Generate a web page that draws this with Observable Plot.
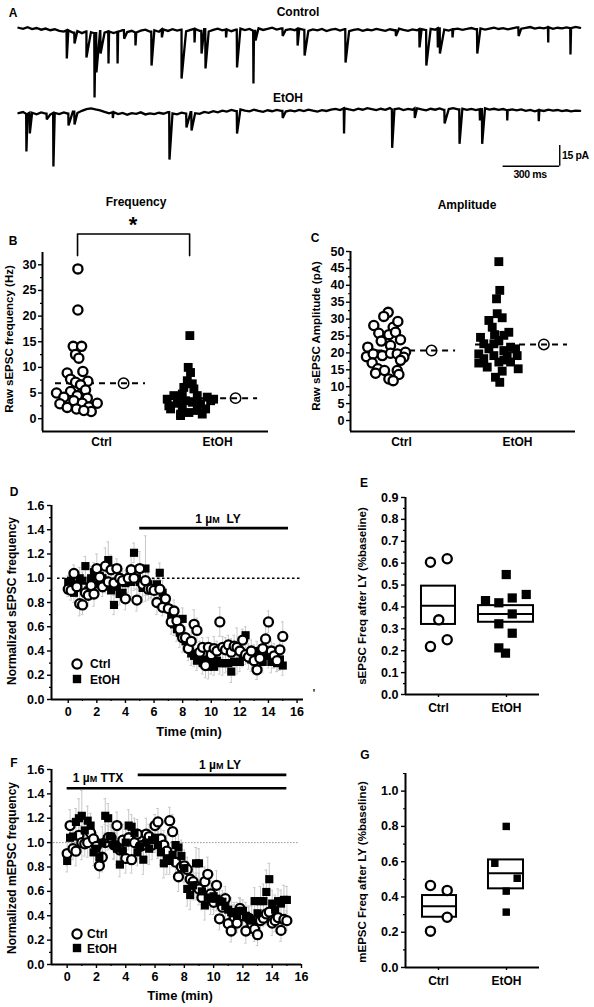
<!DOCTYPE html>
<html><head><meta charset="utf-8">
<script src="https://cdn.jsdelivr.net/npm/d3@7"></script>
<script src="https://cdn.jsdelivr.net/npm/@observablehq/plot@0.6"></script>
<style>
body{margin:0;background:#fff;}
#fig{position:relative;width:594px;height:1007px;overflow:hidden;font-family:"Liberation Sans",Arial,sans-serif;font-weight:bold;color:#000;}
#fig > svg{position:absolute;overflow:visible;}
.lab{position:absolute;white-space:nowrap;font-weight:bold;line-height:1;}
</style></head><body><div id="fig"></div><script>
// ---------------- DATA ----------------
const categories = ["Ctrl", "EtOH"];

// Panel A: raw traces (pA), baseline samples every sampleMs, events [time ms, peak pA]
const sampleMs = 24;
const ctrlTraceBase = [2.0,1.2,2.4,1.0,1.8,0.6,1.4,0.2,0.9,-0.3,-0.8,0.1,-1.5,-0.4,-1.9,-0.6,-1.2,-2.0,-0.5,-1.6,
 -0.7,-1.8,-0.9,0.3,-1.1,-0.2,-1.4,-0.1,0.6,-0.8,0.2,-0.9,0.8,-0.3,1.0,0.0,0.7,-0.6,0.4,1.2,
 -0.2,0.9,-0.7,0.5,1.3,0.1,0.8,-0.5,0.6,1.4,0.3,1.1,-0.2,1.6,0.4,1.2,2.0,0.7,1.5,0.3,
 1.0,0.2,1.3,0.5,-0.3,0.8,0.1,1.1,-0.4,0.6,1.2,0.0,0.9,-0.5,0.4,1.0,-0.2,0.7,0.1,1.1,
 0.5,-0.3,0.9,0.2,1.3,0.4,-0.2,0.8,0.1,1.0,0.3,1.2,0.6,1.6,0.7,0.0,0.9,1.4,0.5,1.1,
 1.8,0.9,1.5,0.6,1.3,2.0,1.1,1.7,0.8,1.5,2.2,1.3,1.9,2.5,1.4,2.1,1.6,2.4,1.2,2.0,
 1.5,2.3,1.7,2.6,1.9];
const ctrlTraceEvents = [[256,-20.3],[297,-9.4],[360,-19.6],[403,-48.6],[413,-30.4],[435,-16.7],[477,-23.9],
 [525,-23.9],[560,-6],[620,-10.9],[705,-25.4],[760,-5],[864,-34.8],[933,-8.7],[970,-16.7],[991,-27.5],
 [1100,-5],[1158,-26.8],[1245,-38.4],[1256,-7.2],[1400,-4],[1479,-10.9],[1516,-18.1],[1733,-23.2],
 [2000,-4],[2125,-12.3],[2161,-25.4],[2222,-12.3],[2233,-16.7],[2300,-5],[2431,-16.7],[2650,-4],
 [2807,-8.7],[2925,-17.4]];
const etohTraceBase = [-0.5,0.3,-1.0,-0.2,-1.3,0.1,-0.8,-1.5,-0.3,-1.1,0.0,-0.9,0.6,-0.4,1.2,2.4,3.0,2.2,1.5,0.4,
 -0.6,0.2,-1.2,-0.3,-1.6,-0.5,-1.0,0.1,-1.4,-0.6,-1.2,-0.2,-0.9,0.3,-0.7,-1.3,-0.1,-0.8,0.2,-0.5,
 -1.0,0.4,-0.3,0.9,0.1,1.3,0.6,1.8,1.0,2.2,1.4,0.8,2.0,1.2,0.5,1.6,0.9,1.9,1.1,0.7,
 1.5,0.8,1.8,1.0,2.1,1.3,0.6,1.7,1.1,2.0,2.6,1.8,3.0,2.2,1.6,2.8,2.0,3.1,2.4,1.7,
 2.7,1.9,3.2,2.3,2.9,1.8,2.6,2.0,3.0,2.2,1.6,2.7,2.0,2.9,1.8,2.5,3.1,2.2,2.8,1.9,
 2.6,1.7,2.4,3.0,2.1,2.7,1.9,2.5,1.6,2.3,1.5,2.2,1.2,1.9,0.9,1.7,1.1,2.0,1.3,1.8,
 1.0,1.6,0.8,1.4,1.2];
const etohTraceEvents = [[42,-28.3],[60,-15.2],[150,-5],[185,-39.1],[265,-9.4],[297,-8.7],[500,-4],
 [800,-34.1],[890,-10.9],[917,-13.0],[1158,-15.2],[1400,-4],[1725,-15.2],[1980,-25.6],[2100,-4],
 [2258,-8],[2337,-22.7],[2445,-5.8],[2457,-22.7],[2590,-5.8],[2757,-6.3]];

// Panel B: raw sEPSC frequency (Hz); position = horizontal scatter within group
const ctrlFreqPos = [-0.204,-0.204,-0.244,-0.172,-0.224,-0.196,-0.296,-0.161,-0.267,-0.118,-0.224,-0.181,-0.388,-0.267,-0.138,-0.209,-0.325,-0.123,-0.359,-0.296,-0.239,-0.166,-0.109,-0.037,-0.089,-0.216,-0.153];
const ctrlFreq = [29.2,21.2,14.1,14.1,12.5,11.8,8.9,9.2,7.7,7.3,7.1,6.6,5.0,5.3,5.6,4.5,4.2,4.0,2.9,2.2,3.5,3.0,2.3,3.0,1.4,1.9,1.6];
const etohFreqPos = [0.761,0.747,0.767,0.739,0.782,0.709,0.796,0.696,0.623,0.825,0.566,0.911,0.580,0.653,0.724,0.782,0.853,0.897,0.825,0.681,0.753,0.940,0.696,0.681,0.868,0.595,0.966];
const etohFreq = [16.2,10.0,9.0,7.4,6.8,6.1,5.8,4.8,4.5,4.5,3.8,4.2,2.5,3.0,3.5,3.2,2.9,1.9,1.6,0.9,1.2,3.5,2.2,0.6,0.9,1.9,3.8];
const freqMean = [6.9, 4.0];
const freqMeanPos = [0.190, 1.155];

// Panel C: raw sEPSC amplitude (pA)
const ctrlAmpPos = [-0.115,-0.153,-0.239,-0.072,-0.032,-0.196,-0.109,-0.052,-0.009,-0.175,-0.095,-0.291,-0.302,-0.244,-0.166,-0.095,-0.037,0.034,0.020,-0.009,-0.253,-0.204,-0.224,-0.147,-0.037,-0.023,-0.109,-0.072];
const ctrlAmp = [32.0,30.8,28.1,27.6,29.3,25.8,25.4,26.1,23.9,23.5,22.2,21.7,18.9,19.7,19.2,19.9,19.7,20.2,18.7,17.8,17.0,15.3,14.0,14.8,14.8,13.6,12.3,11.8];
const etohAmpPos = [0.839,0.847,0.819,0.825,0.868,0.753,0.782,0.925,0.802,0.681,0.882,0.709,0.796,0.839,0.940,0.983,0.753,0.882,0.666,0.796,0.911,0.997,0.709,0.666,0.839,0.940,0.739,1.006,0.868,0.810,0.847,0.882];
const etohAmp = [47.0,38.5,36.0,31.6,30.4,29.6,27.6,26.1,25.4,24.6,25.2,22.7,22.7,23.7,21.7,21.2,21.2,20.7,19.7,19.2,19.2,19.2,18.3,17.0,17.3,17.3,15.8,15.3,14.6,12.8,11.3,17.9];
const ampMean = [20.7, 22.5];
const ampMeanPos = [0.259, 1.227];

// Panels D and F: normalized frequency time courses
const timeMin = [0,0.2,0.4,0.6,0.8,1,1.2,1.4,1.6,1.8,2,2.2,2.4,2.6,2.8,3,3.2,3.4,3.6,3.8,4,4.2,4.4,4.6,4.8,5,5.2,5.4,5.6,5.8,6,6.2,6.4,6.6,6.8,7,7.2,7.4,7.6,7.8,8,8.2,8.4,8.6,8.8,9,9.2,9.4,9.6,9.8,10,10.2,10.4,10.6,10.8,11,11.2,11.4,11.6,11.8,12,12.2,12.4,12.6,12.8,13,13.2,13.4,13.6,13.8,14,14.2,14.4,14.6,14.8,15];
const sCtrl = [0.91,0.90,1.04,0.93,0.79,0.78,0.88,0.86,0.94,0.87,1.08,1.01,0.93,1.10,0.97,1.07,0.96,1.08,1.00,0.98,
 0.83,1.00,1.07,1.00,0.82,1.08,0.95,0.98,0.91,0.91,0.90,0.80,0.91,0.76,0.83,0.75,0.64,0.73,0.65,0.58,
 0.51,0.51,0.42,0.48,0.62,0.57,0.39,0.43,0.28,0.43,0.37,0.42,0.40,0.64,0.43,0.41,0.45,0.39,0.44,0.43,
 0.40,0.49,0.37,0.35,0.40,0.32,0.245,0.34,0.42,0.50,0.64,0.40,0.36,0.32,0.41,0.52];
const sCtrlSem = [0.06,0.08,0.07,0.09,0.10,0.08,0.07,0.09,0.08,0.10,0.12,0.09,0.08,0.15,0.10,0.12,0.09,0.08,0.11,0.10,
 0.09,0.08,0.12,0.10,0.09,0.14,0.10,0.12,0.09,0.08,0.09,0.10,0.08,0.07,0.09,0.08,0.10,0.09,0.11,0.10,
 0.12,0.09,0.10,0.11,0.12,0.10,0.09,0.08,0.10,0.08,0.09,0.10,0.08,0.12,0.09,0.10,0.08,0.11,0.09,0.16,
 0.10,0.09,0.08,0.10,0.09,0.11,0.08,0.10,0.09,0.15,0.09,0.08,0.10,0.09,0.10,0.12];
const sEtoh = [0.97,0.98,0.88,0.95,1.00,0.98,1.10,0.90,1.00,1.05,0.95,1.02,1.00,0.98,1.15,0.90,0.78,0.93,0.87,0.88,
 0.96,0.97,0.97,1.21,1.00,0.97,0.92,1.08,0.95,0.92,0.90,0.95,1.045,0.88,0.80,0.75,0.70,0.62,0.58,0.55,
 0.665,0.48,0.42,0.38,0.36,0.32,0.35,0.30,0.33,0.27,0.30,0.27,0.32,0.30,0.30,0.30,0.30,0.23,0.31,0.31,
 0.31,0.36,0.53,0.38,0.33,0.36,0.40,0.35,0.31,0.38,0.36,0.31,0.34,0.30,0.33,0.28];
const sEtohSem = [0.05,0.07,0.08,0.06,0.09,0.07,0.08,0.06,0.10,0.08,0.07,0.09,0.08,0.10,0.15,0.09,0.08,0.07,0.09,0.08,
 0.10,0.09,0.12,0.08,0.09,0.10,0.12,0.27,0.09,0.08,0.07,0.09,0.08,0.10,0.09,0.07,0.08,0.09,0.10,0.12,
 0.09,0.08,0.07,0.10,0.09,0.08,0.07,0.09,0.08,0.10,0.09,0.07,0.08,0.09,0.10,0.08,0.07,0.09,0.08,0.10,
 0.08,0.09,0.07,0.08,0.10,0.09,0.08,0.07,0.09,0.08,0.10,0.09,0.08,0.07,0.09,0.08];
const mCtrl = [0.91,1.14,0.95,0.93,1.06,1.00,0.99,1.00,1.08,1.03,0.97,0.81,0.88,1.00,1.04,1.04,0.98,1.14,0.94,1.02,
 0.87,1.04,0.86,1.00,1.07,0.97,0.98,1.07,1.05,0.98,1.14,1.17,1.03,0.98,0.93,1.18,1.09,0.84,0.72,0.80,
 0.81,0.78,0.70,0.68,0.64,0.62,0.55,0.68,0.74,0.58,0.51,0.65,0.375,0.47,0.54,0.335,0.275,0.39,0.34,0.46,
 0.40,0.275,0.38,0.335,0.29,0.245,0.36,0.38,0.415,0.43,0.34,0.36,0.385,0.28,0.37,0.36];
const mCtrlSem = [0.10,0.13,0.09,0.12,0.11,0.14,0.10,0.12,0.09,0.13,0.11,0.10,0.12,0.15,0.10,0.09,0.12,0.11,0.10,0.13,
 0.12,0.10,0.11,0.09,0.12,0.10,0.11,0.13,0.10,0.12,0.09,0.11,0.10,0.12,0.13,0.11,0.14,0.10,0.12,0.11,
 0.13,0.10,0.12,0.15,0.11,0.13,0.10,0.12,0.14,0.11,0.10,0.12,0.09,0.11,0.10,0.08,0.09,0.10,0.08,0.09,
 0.08,0.10,0.09,0.08,0.10,0.09,0.08,0.07,0.09,0.08,0.10,0.09,0.08,0.09,0.10,0.08];
const mEtoh = [0.85,1.04,1.05,1.17,1.20,1.22,1.10,1.18,1.14,0.92,0.95,0.88,1.00,1.22,1.20,1.05,0.98,0.95,0.82,0.93,
 1.00,1.14,1.13,1.08,0.92,0.97,0.86,1.00,0.95,1.02,1.04,0.98,0.92,0.83,0.87,0.85,0.90,0.98,0.96,0.89,
 0.79,0.62,0.57,0.65,0.83,0.83,0.60,0.485,0.55,0.54,0.56,0.54,0.52,0.515,0.48,0.45,0.43,0.42,0.40,0.44,
 0.44,0.40,0.38,0.36,0.52,0.42,0.52,0.52,0.595,0.70,0.50,0.45,0.52,0.50,0.53,0.53];
const mEtohSem = [0.09,0.12,0.14,0.11,0.16,0.21,0.13,0.12,0.10,0.11,0.12,0.10,0.13,0.14,0.12,0.10,0.11,0.13,0.10,0.12,
 0.11,0.13,0.10,0.12,0.11,0.10,0.12,0.11,0.13,0.10,0.12,0.11,0.10,0.12,0.13,0.11,0.10,0.12,0.11,0.13,
 0.12,0.14,0.12,0.11,0.13,0.12,0.11,0.12,0.10,0.13,0.11,0.10,0.12,0.09,0.11,0.10,0.12,0.09,0.11,0.10,
 0.09,0.11,0.10,0.12,0.11,0.13,0.12,0.14,0.18,0.13,0.11,0.12,0.10,0.11,0.12,0.11];
// drug application windows (min)
const lyD = [5.0, 15.4];
const ttxF = [0.0, 15.0];
const lyF = [4.85, 15.0];

// Panel E: sEPSC freq after LY (fraction of baseline)
const eCtrlPos = [-0.118, 0.128, 0.004, -0.118, 0.128];
const eCtrl = [0.604, 0.620, 0.341, 0.219, 0.250];
const eEtohPos = [0.996, 0.691, 0.887, 1.084, 1.290, 1.084, 0.887, 1.084, 0.887, 0.985];
const eEtoh = [0.548, 0.429, 0.419, 0.441, 0.457, 0.368, 0.323, 0.280, 0.213, 0.189];
const eBoxLow = [0.320, 0.330], eBoxMid = [0.406, 0.368], eBoxHigh = [0.495, 0.406];

// Panel G: mEPSC freq after LY
const gCtrlPos = [-0.118, 0.128, 0.128, -0.118];
const gCtrl = [0.465, 0.437, 0.285, 0.206];
const gEtohPos = [0.996, 0.828, 1.157, 0.996, 0.996];
const gEtoh = [0.800, 0.591, 0.506, 0.433, 0.314];
const gBoxLow = [0.285, 0.446], gBoxMid = [0.348, 0.535], gBoxHigh = [0.408, 0.610];

// ---------------- HELPERS ----------------
const fig = document.getElementById("fig");
const FONT = '"Liberation Sans", Arial, sans-serif';
const baseStyle = {fontFamily: FONT, fontSize: "12px", fontWeight: "bold", overflow: "visible", background: "none"};

function place(svg, left, top) { svg.style.left = left + "px"; svg.style.top = top + "px"; fig.appendChild(svg); }
function label(html, x, y, o = {}) {
  const d = document.createElement("div");
  d.className = "lab"; d.innerHTML = html;
  d.style.fontSize = (o.size || 12) + "px";
  if (o.ls) d.style.letterSpacing = o.ls + "px";
  d.style.left = x + "px"; d.style.top = y + "px";
  const tx = o.anchor === "start" ? "0" : "-50%";
  d.style.transform = `translate(${tx},-50%)` + (o.rotate ? ` rotate(${o.rotate}deg)` : "");
  fig.appendChild(d);
}
function legendMark(shape, x, y) {
  const d = document.createElement("div");
  d.style.position = "absolute"; d.style.left = (x - 7) + "px"; d.style.top = (y - 7) + "px";
  d.innerHTML = shape === "circle"
    ? '<svg width="14" height="14"><circle cx="7" cy="7" r="4.6" fill="#fff" stroke="#000" stroke-width="2.2"/></svg>'
    : '<svg width="14" height="14"><rect x="2.8" y="2.8" width="8.4" height="8.4" fill="#000"/></svg>';
  fig.appendChild(d);
}
// margins from page-coordinates of the frame
function frame(left, top, width, height, x0, x1, y0, y1) {
  return {width, height, marginLeft: x0 - left, marginRight: left + width - x1, marginTop: y0 - top, marginBottom: top + height - y1};
}
function range(a, b, s) { const r = []; for (let v = a; v <= b + 1e-9; v += s) r.push(+v.toFixed(3)); return r; }
function yAxis(major, minor, fmt, pad) {
  return [
    Plot.axisY(major, {tickSize: 4, tickPadding: pad, tickFormat: fmt, label: null, strokeWidth: 1.4, fontSize: 12.5}),
    Plot.axisY(minor, {tickSize: 2, tickFormat: () => "", label: null, strokeWidth: 1.2})
  ];
}
function axisLines(xd, yd) {
  return [
    Plot.ruleX([xd[0]], {y1: yd[0], y2: yd[1], strokeWidth: 2}),
    Plot.ruleY([yd[0]], {x1: xd[0], x2: xd[1], strokeWidth: 2})
  ];
}
const circleStyle = {r: 4.6, fill: "#fff", stroke: "#000", strokeWidth: 2.3};
const squareStyle = {symbol: "square", r: 5.0, fill: "#000", stroke: "none"};

// ---------------- PANEL A ----------------
function buildTrace(base, events) {
  const pts = base.map((v, i) => ({t: i * sampleMs, v}));
  for (const [t, a] of events) {
    const b = base[Math.min(base.length - 1, Math.round(t / sampleMs))];
    pts.push({t: t - 1.5, v: b}, {t, v: a});
  }
  return pts.sort((p, q) => p.t - q.t);
}
const etohOffset = -59.4;
const ctrlTrace = buildTrace(ctrlTraceBase, ctrlTraceEvents);
const etohTrace = buildTrace(etohTraceBase, etohTraceEvents).map(d => ({t: d.t, v: d.v + etohOffset}));
const barT = 2868, barV = -98.3;
place(Plot.plot({
  width: 594, height: 190, marginLeft: 18, marginRight: 14, marginTop: 0, marginBottom: 5,
  style: baseStyle,
  x: {domain: [0, 2978], axis: null}, y: {domain: [-112.3, 21.74], axis: null},
  marks: [
    Plot.line(ctrlTrace, {x: "t", y: "v", stroke: "#000", strokeWidth: 2.3, strokeLinejoin: "miter", strokeMiterlimit: 3}),
    Plot.line(etohTrace, {x: "t", y: "v", stroke: "#000", strokeWidth: 2.3, strokeLinejoin: "miter", strokeMiterlimit: 3}),
    Plot.ruleX([barT], {y1: barV, y2: barV + 15, strokeWidth: 1.4}),
    Plot.ruleY([barV], {x1: barT - 300, x2: barT, strokeWidth: 1.4})
  ]
}), 0, 0);
label("A", 13, 13, {size: 12});
label("Control", 298, 12, {size: 12});
label("EtOH", 288, 98, {size: 12});
label("15 pA", 562, 155, {size: 10.5, anchor: "start", ls: -0.4});
label("300 ms", 530, 174, {size: 10.5, ls: -0.4});

// ---------------- PANEL B ----------------
{
  const xd = [-0.509, 1.439], yd = [-2.5, 32.4];
  place(Plot.plot({
    ...frame(0, 195, 290, 262, 42, 268, 252, 431), style: baseStyle,
    x: {domain: xd}, y: {domain: yd},
    marks: [
      ...axisLines(xd, yd),
      ...yAxis(range(0, 30, 5), range(2.5, 32.5, 5).filter(v => v < 32.4), d => d, 2),
      Plot.axisX([0, 1], {tickSize: 0, tickPadding: 6, tickFormat: i => categories[i], label: null, fontSize: 12}),
      Plot.line([[-0.207, 31.8], [-0.207, 36], [0.759, 36], [0.759, 31.8]], {strokeWidth: 1.6}),
      Plot.dot(freqMean, {x: (d, i) => freqMeanPos[i], y: d => d, r: 5.2, fill: "#fff", stroke: "#000", strokeWidth: 1.5}),
      Plot.ruleY([freqMean[0]], {x1: -0.397, x2: 0.379, strokeWidth: 2, strokeDasharray: "6,5"}),
      Plot.ruleY([freqMean[1]], {x1: 0.552, x2: 1.345, strokeWidth: 2, strokeDasharray: "6,5"}),
      Plot.dot(ctrlFreq, {x: (d, i) => ctrlFreqPos[i], y: d => d, ...circleStyle}),
      Plot.dot(etohFreq, {x: (d, i) => etohFreqPos[i], y: d => d, ...squareStyle})
    ]
  }), 0, 195);
  label("Frequency", 136, 202);
  label("*", 133, 225, {size: 22});
  label("B", 13, 241);
  label("Raw sEPSC frequency (Hz)", 10, 339, {rotate: -90, size: 11.5});
}

// ---------------- PANEL C ----------------
{
  const xd = [-0.44, 1.5], yd = [-3.25, 50];
  place(Plot.plot({
    ...frame(290, 195, 304, 262, 350, 575, 251, 431), style: baseStyle,
    x: {domain: xd}, y: {domain: yd},
    marks: [
      ...axisLines(xd, yd),
      ...yAxis(range(0, 50, 5), range(2.5, 47.5, 5), d => d, 2),
      Plot.axisX([0, 1], {tickSize: 0, tickPadding: 6, tickFormat: i => categories[i], label: null, fontSize: 12}),
      Plot.dot(ampMean, {x: (d, i) => ampMeanPos[i], y: d => d, r: 5.2, fill: "#fff", stroke: "#000", strokeWidth: 1.5}),
      Plot.ruleY([ampMean[0]], {x1: -0.31, x2: 0.466, strokeWidth: 2, strokeDasharray: "6,5"}),
      Plot.ruleY([ampMean[1]], {x1: 0.638, x2: 1.431, strokeWidth: 2, strokeDasharray: "6,5"}),
      Plot.dot(ctrlAmp, {x: (d, i) => ctrlAmpPos[i], y: d => d, ...circleStyle}),
      Plot.dot(etohAmp, {x: (d, i) => etohAmpPos[i], y: d => d, ...squareStyle})
    ]
  }), 290, 195);
  label("Amplitude", 467, 205);
  label("C", 315, 238);
  label("Raw sEPSC Amplitude (pA)", 317, 336, {rotate: -90, size: 11.5});
}

// ---------------- TIME COURSE PANELS ----------------
function series(vals, sems) { return timeMin.map((t, i) => ({t, v: vals[i], e: sems[i]})); }
function errMarks(data) {
  return [
    Plot.ruleX(data, {x: "t", y1: d => d.v - d.e, y2: d => d.v + d.e, stroke: "#c8c8c8", strokeWidth: 1}),
    Plot.ruleY(data, {y: d => d.v + d.e, x1: d => d.t - 0.09, x2: d => d.t + 0.09, stroke: "#c8c8c8", strokeWidth: 1}),
    Plot.ruleY(data, {y: d => d.v - d.e, x1: d => d.t - 0.09, x2: d => d.t + 0.09, stroke: "#c8c8c8", strokeWidth: 1})
  ];
}
const fmt1 = d3.format(".1f");

// D
{
  const xd = [-1.17, 16.45], yd = [0, 1.6];
  const c = series(sCtrl, sCtrlSem), e = series(sEtoh, sEtohSem);
  place(Plot.plot({
    ...frame(0, 480, 320, 262, 51, 303, 505, 699), style: baseStyle,
    x: {domain: xd}, y: {domain: yd},
    marks: [
      ...errMarks(e), ...errMarks(c),
      ...axisLines(xd, yd),
      ...yAxis(range(0, 1.6, 0.2), range(0.1, 1.5, 0.2), fmt1, 3),
      Plot.axisX(range(0, 16, 2), {tickSize: 4, tickPadding: 4, label: null, strokeWidth: 1.4, fontSize: 12.5}),
      Plot.axisX(range(1, 15, 2), {tickSize: 2, tickFormat: () => "", label: null, strokeWidth: 1.2}),
      Plot.ruleY([1], {x1: -0.75, x2: 16.25, strokeWidth: 1.5, strokeDasharray: "2.5,2.5"}),
      Plot.ruleY([1.413], {x1: lyD[0], x2: lyD[1], strokeWidth: 2.6}),
      Plot.dot(e, {x: "t", y: "v", ...squareStyle, r: 4.6}),
      Plot.dot(c, {x: "t", y: "v", ...circleStyle, r: 4.5})
    ]
  }), 0, 480);
  label("D", 14, 492);
  label('1 µ<span style="font-size:9px">M</span>&nbsp; LY', 218, 519);
  label("Normalized sEPSC frequency", 12, 601, {rotate: -90, size: 12});
  label("Time (min)", 189, 731, {size: 13});
  legendMark("circle", 77, 664); label("Ctrl", 90, 664, {anchor: "start"});
  legendMark("square", 77, 679); label("EtOH", 90, 680, {anchor: "start"});
  label("'", 314, 694, {size: 10});
}

// F
{
  const xd = [-1.07, 16], yd = [0, 1.6];
  const c = series(mCtrl, mCtrlSem), e = series(mEtoh, mEtohSem);
  place(Plot.plot({
    ...frame(0, 742, 320, 265, 51, 301, 769, 964), style: baseStyle,
    x: {domain: xd}, y: {domain: yd},
    marks: [
      ...errMarks(e), ...errMarks(c),
      ...axisLines(xd, yd),
      ...yAxis(range(0, 1.6, 0.2), range(0.1, 1.5, 0.2), fmt1, 3),
      Plot.axisX(range(0, 16, 2), {tickSize: 4, tickPadding: 4, label: null, strokeWidth: 1.4, fontSize: 12.5}),
      Plot.axisX(range(1, 15, 2), {tickSize: 2, tickFormat: () => "", label: null, strokeWidth: 1.2}),
      Plot.ruleY([1], {x1: -0.93, x2: 15.87, stroke: "#777", strokeWidth: 0.8, strokeDasharray: "1.5,1.5"}),
      Plot.ruleY([1.446], {x1: ttxF[0], x2: ttxF[1], strokeWidth: 2.6}),
      Plot.ruleY([1.556], {x1: lyF[0], x2: lyF[1], strokeWidth: 2.6}),
      Plot.dot(c, {x: "t", y: "v", ...circleStyle, r: 4.5}),
      Plot.dot(e, {x: "t", y: "v", ...squareStyle, r: 4.6})
    ]
  }), 0, 742);
  label("F", 14, 763);
  label('1 µ<span style="font-size:9px">M</span> TTX', 98, 778);
  label('1 µ<span style="font-size:9px">M</span> LY', 220, 765);
  label("Normalized mEPSC frequency", 12, 868, {rotate: -90, size: 12});
  label("Time (min)", 180, 995, {size: 13});
  legendMark("circle", 77, 934); label("Ctrl", 87, 934, {anchor: "start"});
  legendMark("square", 77, 948); label("EtOH", 87, 949, {anchor: "start"});
}

// ---------------- BOX PANELS ----------------
function boxMarks(low, mid, high, ext) {
  const boxes = low.map((l, i) => ({x1: ext[i][0], x2: ext[i][1], lo: l, mid: mid[i], hi: high[i]}));
  return [
    Plot.rect(boxes, {x1: "x1", x2: "x2", y1: "lo", y2: "hi", fill: "#fff", stroke: "#000", strokeWidth: 2}),
    Plot.ruleY(boxes, {y: "mid", x1: "x1", x2: "x2", strokeWidth: 2})
  ];
}
// E
{
  const xd = [-0.485, 1.485], yd = [0, 0.9];
  place(Plot.plot({
    ...frame(330, 470, 264, 262, 405, 539, 497, 694), style: baseStyle,
    x: {domain: xd}, y: {domain: yd},
    marks: [
      ...axisLines(xd, yd),
      ...yAxis(range(0, 0.9, 0.1), range(0.05, 0.85, 0.1), fmt1, 3),
      Plot.axisX([0, 1], {tickSize: 3, tickPadding: 6, tickFormat: i => categories[i], label: null, strokeWidth: 1.4, fontSize: 12}),
      ...boxMarks(eBoxLow, eBoxMid, eBoxHigh, [[-0.25, 0.25], [0.588, 1.397]]),
      Plot.dot(eCtrl, {x: (d, i) => eCtrlPos[i], y: d => d, ...circleStyle}),
      Plot.dot(eEtoh, {x: (d, i) => eEtohPos[i], y: d => d, ...squareStyle, r: 5.2})
    ]
  }), 330, 470);
  label("E", 364, 483);
  label("sEPSC Freq after LY (%baseline)", 363, 596, {rotate: -90, size: 11.5});
}
// G
{
  const xd = [-0.485, 1.485], yd = [0, 1.1];
  place(Plot.plot({
    ...frame(330, 742, 264, 265, 405, 539, 773, 967), style: baseStyle,
    x: {domain: xd}, y: {domain: yd},
    marks: [
      ...axisLines(xd, yd),
      ...yAxis(range(0, 1.0, 0.2), range(0.1, 1.1, 0.2), fmt1, 3),
      Plot.axisX([0, 1], {tickSize: 3, tickPadding: 6, tickFormat: i => categories[i], label: null, strokeWidth: 1.4, fontSize: 12}),
      ...boxMarks(gBoxLow, gBoxMid, gBoxHigh, [[-0.235, 0.265], [0.735, 1.25]]),
      Plot.dot(gCtrl, {x: (d, i) => gCtrlPos[i], y: d => d, ...circleStyle}),
      Plot.dot(gEtoh, {x: (d, i) => gEtohPos[i], y: d => d, ...squareStyle, r: 4.2})
    ]
  }), 330, 742);
  label("G", 365, 755);
  label("mEPSC Freq after LY (%baseline)", 363, 872, {rotate: -90, size: 11.5});
}
</script></body></html>
